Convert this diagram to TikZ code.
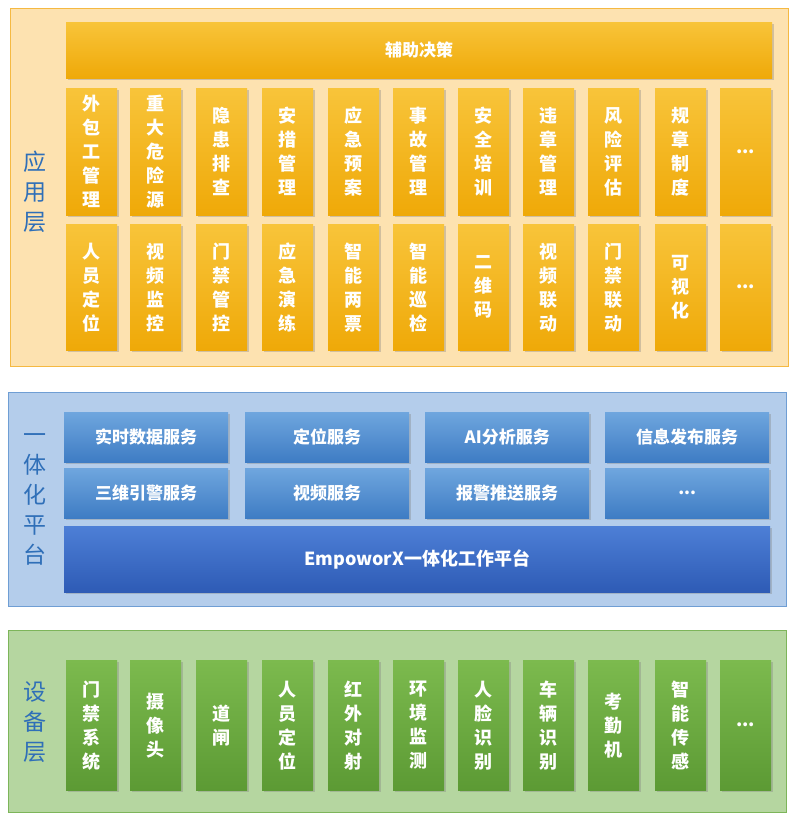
\documentclass[tikz,border=0pt]{standalone}
\usepackage{fontspec}
\setmainfont{Noto Sans CJK SC}
\usetikzlibrary{shadows}
\definecolor{orgbg}{HTML}{FDE2B0}
\definecolor{orgbd}{HTML}{F5B942}
\definecolor{gtop}{HTML}{F8C43A}
\definecolor{gbot}{HTML}{EFA908}
\definecolor{blubg}{HTML}{B4CDEB}
\definecolor{blubd}{HTML}{6F9ED4}
\definecolor{btop}{HTML}{6FA6DE}
\definecolor{bbot}{HTML}{3E7CC4}
\definecolor{ptop}{HTML}{4D7FD6}
\definecolor{pbot}{HTML}{2E5BB5}
\definecolor{grnbg}{HTML}{B5D6A0}
\definecolor{grnbd}{HTML}{7DB55A}
\definecolor{ggtop}{HTML}{7CBA4E}
\definecolor{ggbot}{HTML}{5C9A34}
\definecolor{lbl}{HTML}{2F6FB8}
\newcommand{\dts}{.{}.{}.}
\tikzset{
 panel/.style={draw=#1, line width=0.8pt, anchor=north west, inner sep=0pt},
 cell/.style={anchor=north west, inner sep=0pt, text=white, font=\bfseries\fontsize{18}{24}\selectfont, align=center, drop shadow={shadow xshift=1.5pt,shadow yshift=-1.5pt,opacity=0.35}},
 gold/.style={cell, top color=gtop, bottom color=gbot},
 blu/.style={cell, top color=btop, bottom color=bbot, font=\bfseries\fontsize{17}{20}\selectfont},
 grn/.style={cell, top color=ggtop, bottom color=ggbot},
 side/.style={text=lbl, font=\fontsize{23}{30}\selectfont, align=center}
}
\begin{document}
\begin{tikzpicture}[x=1pt,y=-1pt]
\useasboundingbox[fill=white] (0,0) rectangle (800,824);
\node[panel=orgbd, fill=orgbg, minimum width=778pt, minimum height=358pt] (p1) at (10,8) {};
\node[panel=blubd, fill=blubg, minimum width=778pt, minimum height=214pt] (p2) at (8,392) {};
\node[panel=grnbd, fill=grnbg, minimum width=778pt, minimum height=182pt] (p3) at (8,630) {};
\node[side] (s1) at (35,192) {应\\用\\层};
\node[side] (s2) at (35,499) {一\\体\\化\\平\\台};
\node[side] (s3) at (35,722) {设\\备\\层};
\node[gold, minimum width=706pt, minimum height=56pt, font=\bfseries\fontsize{17}{20}\selectfont] (fz) at (66,22) {辅助决策};
\foreach \x/\t [count=\i] in {66/{外\\包\\工\\管\\理},130/{重\\大\\危\\险\\源},196/{隐\\患\\排\\查},262/{安\\措\\管\\理},328/{应\\急\\预\\案},393/{事\\故\\管\\理},458/{安\\全\\培\\训},523/{违\\章\\管\\理},588/{风\\险\\评\\估},655/{规\\章\\制\\度},720/{\dts}}
 \node[gold, minimum width=51pt, minimum height=127pt] (a\i) at (\x,88) {\t};
\foreach \x/\t [count=\i] in {66/{人\\员\\定\\位},130/{视\\频\\监\\控},196/{门\\禁\\管\\控},262/{应\\急\\演\\练},328/{智\\能\\两\\票},393/{智\\能\\巡\\检},458/{二\\维\\码},523/{视\\频\\联\\动},588/{门\\禁\\联\\动},655/{可\\视\\化},720/{\dts}}
 \node[gold, minimum width=51pt, minimum height=126pt] (b\i) at (\x,224) {\t};
\foreach \x/\t [count=\i] in {64/{实时数据服务},245/{定位服务},425/{AI分析服务},605/{信息发布服务}}
 \node[blu, minimum width=164pt, minimum height=50pt] (c\i) at (\x,412) {\t};
\foreach \x/\t [count=\i] in {64/{三维引警服务},245/{视频服务},425/{报警推送服务},605/{\dts}}
 \node[blu, minimum width=164pt, minimum height=50pt] (d\i) at (\x,468) {\t};
\node[cell, top color=ptop, bottom color=pbot, minimum width=706pt, minimum height=66pt, font=\bfseries\fontsize{18}{22}\selectfont] (plat) at (64,526) {EmpoworX一体化工作平台};
\foreach \x/\t [count=\i] in {66/{门\\禁\\系\\统},130/{摄\\像\\头},196/{道\\闸},262/{人\\员\\定\\位},328/{红\\外\\对\\射},393/{环\\境\\监\\测},458/{人\\脸\\识\\别},523/{车\\辆\\识\\别},588/{考\\勤\\机},655/{智\\能\\传\\感},720/{\dts}}
 \node[grn, minimum width=51pt, minimum height=130pt] (e\i) at (\x,660) {\t};
\end{tikzpicture}
\end{document}
